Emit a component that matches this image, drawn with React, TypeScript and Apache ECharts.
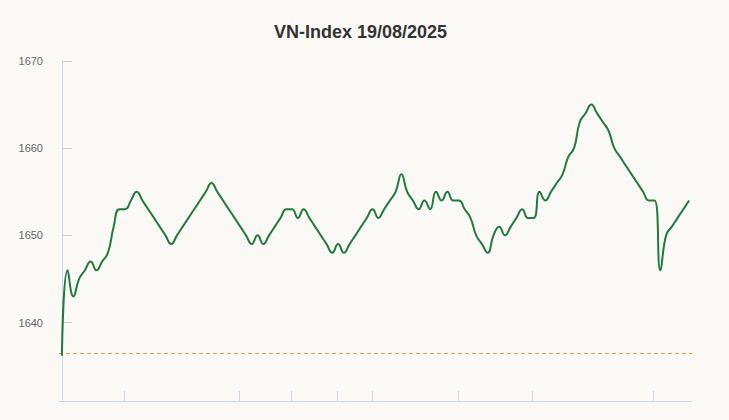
import React, { useEffect, useRef } from "react";
import * as echarts from "echarts";

const titleText = "VN-Index 19/08/2025";
const referenceValue = 1636.45;
const values: number[] = [
  1636.2, 1646, 1643, 1645, 1646, 1647, 1646, 1647, 1648, 1651,
  1653, 1653, 1654, 1655, 1654, 1653, 1652, 1651, 1650, 1649,
  1650, 1651, 1652, 1653, 1654, 1655, 1656, 1655, 1654, 1653,
  1652, 1651, 1650, 1649, 1650, 1649, 1650, 1651, 1652, 1653,
  1653, 1652, 1653, 1652, 1651, 1650, 1649, 1648, 1649, 1648,
  1649, 1650, 1651, 1652, 1653, 1652, 1653, 1654, 1655, 1657,
  1655, 1654, 1653, 1654, 1653, 1655, 1654, 1655, 1654, 1654,
  1653, 1652, 1650, 1649, 1648, 1650, 1651, 1650, 1651, 1652,
  1653, 1652, 1652, 1655, 1654, 1655, 1656, 1657, 1659, 1660,
  1663, 1664, 1665, 1664, 1663, 1662, 1660, 1659, 1658, 1657,
  1656, 1655, 1654, 1654, 1646, 1650, 1651, 1652, 1653, 1654,
];
// x-axis tick marks in units of sample index
const tickPositions: number[] = [10.8, 30.8, 39.8, 47.8, 54.0, 68.9, 81.8, 102.8];
const yMin = 1631;
const yMax = 1670;

const lineColor = "#217a3e";
const refColor = "#e39a3b";

export default function App() {
  const ref = useRef<HTMLDivElement>(null);
  useEffect(() => {
    document.body.style.margin = "0";
    if (!ref.current) return;
    const chart = echarts.init(ref.current, null, { renderer: "svg" });
    const xMin = -0.5;
    const xMax = values.length - 0.5;
    const seriesData = values.map((v, i) => [i, v]);
    const refData = [
      [xMin, referenceValue],
      [xMax, referenceValue],
    ];
    chart.setOption({
      animation: false,
      backgroundColor: "#faf9f6",
      title: {
        text: titleText,
        left: 274,
        top: 23,
        padding: 0,
        textStyle: {
          fontFamily: "Liberation Sans, Arial, sans-serif",
          fontSize: 18,
          fontWeight: "bold",
          color: "#333333",
        },
      },
      grid: { left: 59, right: 37, top: 61, bottom: 19, containLabel: false },
      xAxis: {
        type: "value",
        min: xMin,
        max: xMax,
        axisLine: { show: true, onZero: false, lineStyle: { color: "#ccd6eb", width: 1 } },
        axisTick: {
          show: true,
          inside: true,
          length: 10,
          customValues: tickPositions,
          lineStyle: { color: "#ccd6eb", width: 1 },
        },
        axisLabel: { show: false },
        splitLine: { show: false },
      },
      yAxis: {
        type: "value",
        min: yMin,
        max: yMax,
        axisLine: { show: true, lineStyle: { color: "#ccd6eb", width: 1 } },
        axisTick: {
          show: true,
          inside: true,
          length: 10,
          lineStyle: { color: "#cccccc", width: 1 },
        },
        axisLabel: {
          show: true,
          showMinLabel: false,
          margin: 16,
          color: "#666666",
          fontSize: 11,
          fontFamily: "Liberation Sans, Arial, sans-serif",
          formatter: (v: number) => String(v),
        },
        splitLine: { show: false },
      },
      series: [
        {
          type: "line",
          name: "reference",
          data: refData,
          silent: true,
          showSymbol: false,
          symbol: "none",
          z: 1,
          lineStyle: { color: refColor, type: [4, 3], width: 1 },
          itemStyle: { color: refColor },
        },
        {
          type: "line",
          name: "VN-Index",
          data: seriesData,
          smooth: 0.5,
          showSymbol: false,
          symbol: "none",
          z: 2,
          lineStyle: { color: lineColor, width: 2 },
          itemStyle: { color: lineColor },
        },
      ],
    });
    return () => chart.dispose();
  }, []);
  return <div ref={ref} style={{ width: 729, height: 420 }} />;
}
